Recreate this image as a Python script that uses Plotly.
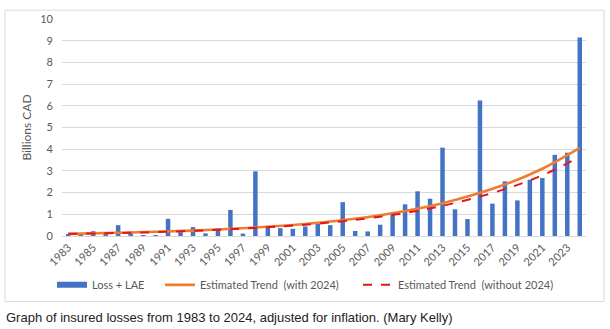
import plotly.graph_objects as go

# Insured losses (Loss + LAE), billions CAD, inflation adjusted
years = list(range(1983, 2025))
losses = [0.05, 0.05, 0.22, 0.12, 0.50, 0.20, 0.02, 0.02, 0.79, 0.18,
          0.41, 0.12, 0.34, 1.20, 0.11, 2.98, 0.41, 0.36, 0.33, 0.44,
          0.56, 0.50, 1.56, 0.23, 0.21, 0.52, 1.00, 1.46, 2.06, 1.72,
          4.07, 1.23, 0.78, 6.25, 1.49, 2.52, 1.64, 2.59, 2.67, 3.74,
          3.84, 9.15]

# Estimated exponential trend lines, sampled at selected years
trend_years = [1983, 1988, 1993, 1998, 2003, 2008, 2013, 2018, 2021, 2024]
trend_with_2024 = [0.10, 0.16, 0.25, 0.39, 0.61, 0.96, 1.51, 2.37, 3.10, 4.06]
trend_without_2024 = [0.10, 0.15, 0.24, 0.37, 0.57, 0.89, 1.39, 2.16, 2.80, 3.64]

tick_years = list(range(1983, 2024, 2))
y_ticks = list(range(0, 11))

BLUE = "#4472c4"
GREY = "#595959"
FONT = "Lato"
NB = "\u00a0"

fig = go.Figure()
fig.add_trace(go.Bar(
    x=years, y=losses, name="Loss + LAE", showlegend=False,
    marker=dict(color=BLUE, line=dict(width=0)), width=0.36,
))
# legend key for the bars: a wide flat swatch like a spreadsheet legend
fig.add_trace(go.Scatter(
    x=[None], y=[None], mode="lines", name="Loss + LAE",
    line=dict(color=BLUE, width=6), legend="legend",
))
fig.add_trace(go.Scatter(
    x=trend_years, y=trend_with_2024, mode="lines",
    name=f"Estimated Trend {NB}(with 2024)",
    line=dict(color="#ed7d31", width=2.6, shape="spline"),
    legend="legend2",
))
fig.add_trace(go.Scatter(
    x=trend_years, y=trend_without_2024, mode="lines",
    name=f"Estimated Trend {NB}(without 2024)",
    line=dict(color="#e8141c", width=2, dash="dash", shape="spline"),
    legend="legend3",
))

L, R, T, B = 62, 24, 14, 93
W, H = 610, 329
pw, ph = W - L - R, H - T - B


def px_x(x):
    return (x - L) / pw


def px_y(y):
    return (H - B - y) / ph


def legend_at(px):
    return dict(
        orientation="h", x=px_x(px), xanchor="left",
        y=px_y(286), yanchor="middle",
        font=dict(family=FONT, size=11, color=GREY),
        itemwidth=30, bgcolor="rgba(0,0,0,0)",
    )


fig.update_layout(
    width=W, height=H,
    margin=dict(l=L, r=R, t=T, b=B),
    paper_bgcolor="white", plot_bgcolor="white",
    font=dict(family=FONT, color=GREY, size=11),
    showlegend=True,
    legend=legend_at(52),
    legend2=legend_at(160),
    legend3=legend_at(358),
    xaxis=dict(
        range=[1982.5, 2024.5], tickmode="array", tickvals=tick_years,
        ticktext=[str(y) for y in tick_years], tickangle=-45,
        showgrid=False, zeroline=False, showline=True,
        linecolor="#d9d9d9", linewidth=1, ticks="",
        tickfont=dict(family=FONT, size=11, color=GREY),
    ),
    yaxis=dict(
        range=[0, 10], tickmode="array", tickvals=y_ticks,
        showgrid=True, gridcolor="#d9d9d9", gridwidth=1,
        zeroline=False, showline=False, ticks="",
        ticklabelstandoff=8,
        tickfont=dict(family=FONT, size=11, color=GREY),
        title=dict(text="Billions CAD", standoff=6,
                   font=dict(family=FONT, size=12, color=GREY)),
    ),
    shapes=[dict(
        type="rect", xref="paper", yref="paper",
        x0=px_x(5), x1=px_x(604), y0=px_y(303), y1=px_y(5),
        line=dict(color="#d9d9d9", width=1), fillcolor="rgba(0,0,0,0)",
        layer="below",
    )],
    annotations=[dict(
        text="Graph of insured losses from 1983 to 2024, adjusted for inflation. (Mary Kelly)",
        xref="paper", yref="paper", x=px_x(4), y=px_y(319),
        xanchor="left", yanchor="middle", showarrow=False,
        font=dict(family="Liberation Sans", size=13, color="#222222"),
    )],
)

fig.write_html("out.html")
